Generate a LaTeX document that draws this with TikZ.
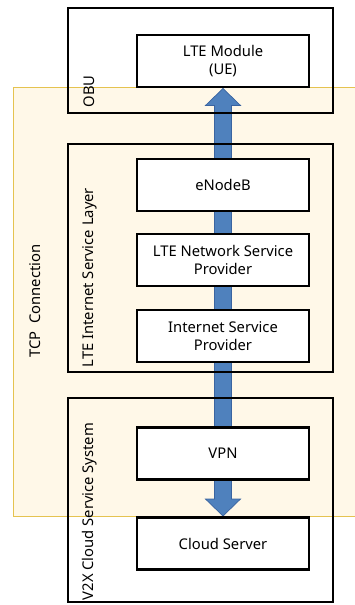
\documentclass[tikz,border=0pt]{standalone}
\usepackage{fontspec}
\setmainfont{Noto Sans}
\usetikzlibrary{calc,backgrounds}
\definecolor{tcpfill}{HTML}{FFF8E8}
\definecolor{tcpline}{HTML}{E5C350}
\definecolor{flowblue}{HTML}{4F81BD}
\definecolor{flowline}{HTML}{3A64A0}
\tikzset{
  unitbox/.style={draw=black,line width=2.5pt,fill=white,minimum width=5.16cm,minimum height=1.56cm,align=center,inner sep=0pt,font=\fontsize{12.6}{15.5}\selectfont},
  layerbox/.style={draw=black,line width=2.5pt,minimum width=7.95cm,inner sep=0pt},
  sidelabel/.style={rotate=90,anchor=west,inner sep=0pt,font=\fontsize{12.6}{15.5}\selectfont},
}
\begin{document}
\begin{tikzpicture}[x=0.03cm,y=-0.03cm]
	\clip (0,0) rectangle (354,605);
	% layers
	\node[layerbox,minimum height=3.15cm] (obu) at (200.5,60.5) {};
	\node[layerbox,minimum height=6.84cm] (lteLayer) at (200.5,258) {};
	\node[layerbox,minimum height=6.12cm] (v2x) at (200.5,500) {};
	\node[sidelabel] (obuText) at ($(obu.south west)+(23,-7)$) {OBU};
	\node[sidelabel] (lteLayerText) at ($(lteLayer.south west)+(23,-6)$) {LTE Internet Service Layer};
	\node[sidelabel] (v2xText) at ($(v2x.south west)+(23,-3)$) {V2X Cloud Service System};
	% units
	\node[unitbox] (lte) at (223,61) {LTE Module\\(UE)};
	\node[unitbox] (enb) at (223,185) {eNodeB};
	\node[unitbox] (nsp) at (223,260) {LTE Network Service\\Provider};
	\node[unitbox] (isp) at (223,336) {Internet Service\\Provider};
	\node[unitbox] (vpn) at (223,453.5) {VPN};
	\node[unitbox] (cloud) at (223,543.5) {Cloud Server};
	\begin{scope}[on background layer]
		\draw[tcpline,fill=tcpfill,line width=0.8pt] (13,87) rectangle (362,516);
		\node[sidelabel,anchor=center] (tcp) at (35,301) {TCP\ \ Connection};
		\draw[flowline,fill=flowblue,line width=0.6pt,line join=miter] (lte.south) -- ++(17.5,17) -- ++(-9,0)
			-- ($(cloud.north)+(8.5,-17)$) -- ++(9,0) -- (cloud.north) -- ++(-17.5,-17) -- ++(9,0)
			-- ($(lte.south)+(-8.5,17)$) -- ++(-9,0) -- cycle;
	\end{scope}
\end{tikzpicture}
\end{document}
